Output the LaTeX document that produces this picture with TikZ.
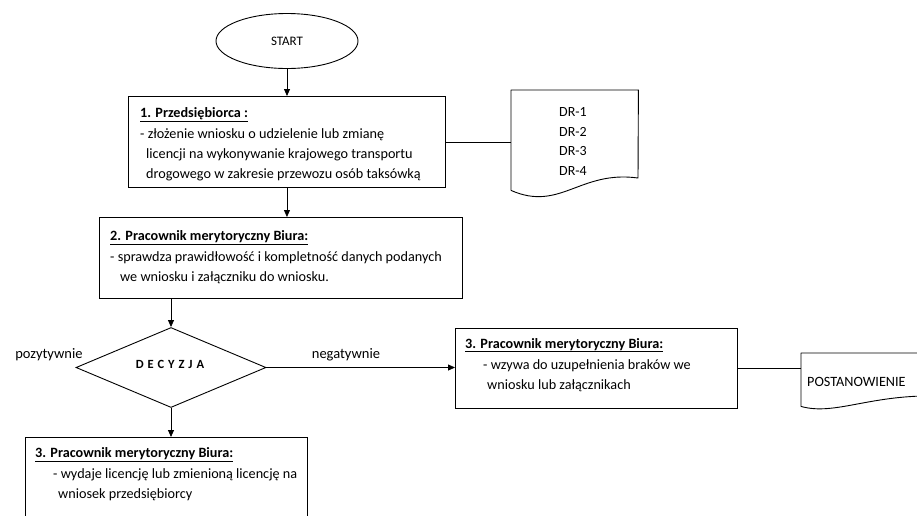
\documentclass[tikz,border=0pt]{standalone}
\usepackage{fontspec}
\setmainfont{Carlito}
\usetikzlibrary{shapes.geometric,arrows.meta}
\begin{document}
\begin{tikzpicture}[x=1pt,y=-1pt,
  font=\fontsize{14.2}{20}\selectfont,
  box/.style={draw, line width=0.9pt, inner sep=0pt, anchor=north west},
  slot/.style={inner sep=0pt, anchor=north west},
  % multi-line text blocks are placed by the baseline of their last line
  txt/.style={anchor=base west, align=left, inner sep=0pt},
  conn/.style={line width=0.8pt},
  arr/.style={conn, -{Triangle[length=7pt,width=6pt]}},
  outline/.style={line width=0.9pt, line join=round},
]
\useasboundingbox (0,0) rectangle (917,515);

% start terminal
\node[draw, ellipse, line width=0.9pt, minimum width=142pt, minimum height=55pt,
      inner sep=0pt, font=\fontsize{13}{15}\selectfont] (start) at (287,41) {START};

% step 1
\node[box, minimum width=317pt, minimum height=91pt] (b1) at (128,96) {};
\node[txt] (t1) at (140,178.5) {\textbf{\underline{1. Przedsiębiorca :}}\\[1pt]
  - złożenie wniosku o udzielenie lub zmianę\\
  \hspace*{6pt}licencji na wykonywanie krajowego transportu\\
  \hspace*{6pt}drogowego w zakresie przewozu osób taksówką};

% documents DR-1 .. DR-4
\node[slot, minimum width=127pt, minimum height=100pt] (dr) at (511,90) {};
\draw[outline] (dr.south west) -- (dr.north west) -- (dr.north east) -- (638,178)
  .. controls (580,170) and (560,212) .. (dr.south west);
\node[anchor=base, align=center, inner sep=0pt,
      font=\fontsize{14}{19.7}\selectfont] (drt) at (573,175.5) {DR-1\\DR-2\\DR-3\\DR-4};

% step 2
\node[box, minimum width=363pt, minimum height=81pt] (b2) at (99,217) {};
\node[txt] (t2) at (110,281.5) {\textbf{\underline{2. Pracownik merytoryczny Biura:}}\\[1pt]
  - sprawdza prawidłowość i kompletność danych podanych\\
  \hspace*{10pt}we wniosku i załączniku do wniosku.};

% decision
\node[draw, diamond, line width=0.9pt, minimum width=190pt, minimum height=80pt,
      inner sep=0pt] (dec) at (171,367.5) {};
\node[font=\fontsize{12.5}{14}\selectfont\bfseries, inner sep=0pt] (dect) at (170,364.5)
  {D\kern3.9pt E\kern3.9pt C\kern3.9pt Y\kern3.9pt Z\kern3.9pt J\kern3.9pt A};
\node[font=\fontsize{14.5}{16}\selectfont, inner sep=0pt] (pos) at (49,355) {pozytywnie};
\node[font=\fontsize{14.5}{16}\selectfont, inner sep=0pt] (neg) at (346,355) {negatywnie};

% step 3, positive branch
\node[box, minimum width=282pt, minimum height=100pt] (b3l) at (25,437) {};
\node[txt] (t3l) at (35,498.5) {\textbf{\underline{3. Pracownik merytoryczny Biura:}}\\[1pt]
  \hspace*{18pt}- wydaje licencję lub zmienioną licencję na\\
  \hspace*{23pt}wniosek przedsiębiorcy};

% step 3, negative branch
\node[box, minimum width=282pt, minimum height=80pt] (b3r) at (455,328) {};
\node[txt] (t3r) at (465,389) {\textbf{\underline{3. Pracownik merytoryczny Biura:}}\\[1pt]
  \hspace*{18pt}- wzywa do uzupełnienia braków we\\
  \hspace*{22pt}wniosku lub załącznikach};

% document POSTANOWIENIE
\node[slot, minimum width=140pt, minimum height=53pt] (pdoc) at (801,353) {};
\draw[outline] (pdoc.north east) -- (pdoc.north west) -- (pdoc.south west)
  .. controls (835,416) and (870,394) .. (940,396);
\node[anchor=base west, inner sep=0pt] (pt) at (807,386.5) {POSTANOWIENIE};

% connectors
\draw[arr] (start.south) -- (start.south |- b1.north);
\draw[arr] (b1.south) -- (b1.south |- b2.north);
\draw[conn] (b1.east) -- (b1.east -| dr.west);
\draw[arr] (b2.south -| dec.north) -- (dec.north);
\draw[arr] (dec.south) -- (dec.south |- b3l.north);
\draw[arr] (dec.east) -- (dec.east -| b3r.west);
\draw[conn] (b3r.east) -- (b3r.east -| pdoc.west);
\end{tikzpicture}
\end{document}
